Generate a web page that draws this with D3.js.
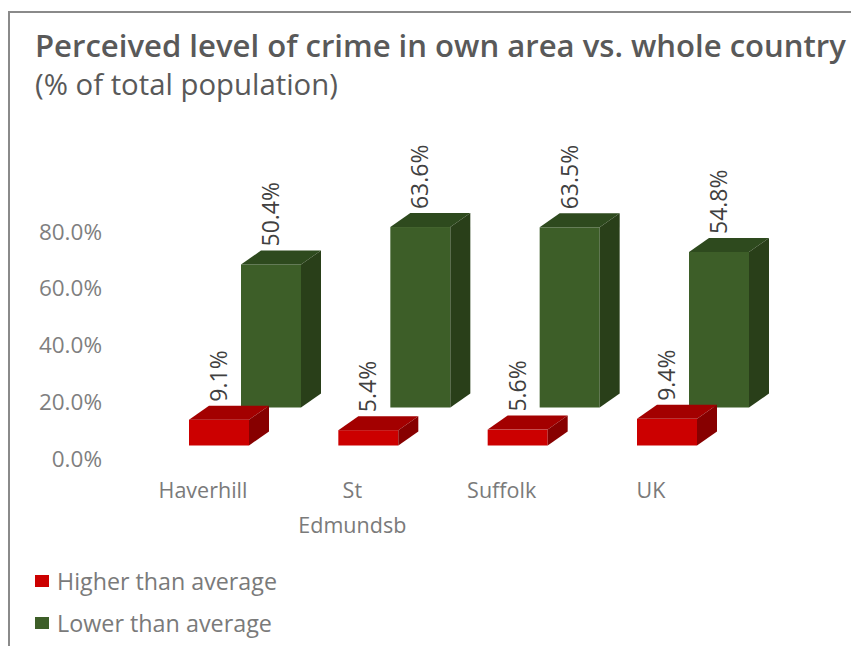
<!DOCTYPE html>
<html>
<head>
<meta charset="utf-8">
<script src="https://cdn.jsdelivr.net/npm/d3@7"></script>
<style>
  html, body { margin: 0; padding: 0; background: #ffffff; }
  svg { display: block; }
  text { font-family: "Open Sans", "Noto Sans", sans-serif; }
</style>
</head>
<body>
<svg id="chart" width="851" height="646"></svg>
<script>
// Chart data
const categories = ["Haverhill", "St Edmundsb", "Suffolk", "UK"];
const higherValues = [9.1, 5.4, 5.6, 9.4];
const lowerValues = [50.4, 63.6, 63.5, 54.8];
const seriesNames = ["Higher than average", "Lower than average"];
const yTicks = [0, 20, 40, 60, 80];

const W = 851, H = 646;
const svg = d3.select("#chart");

// Frame (top and left edges of the chart area)
svg.append("path")
  .attr("d", `M9,${H} L9,12 L${W},12`)
  .attr("fill", "none")
  .attr("stroke", "#8a8a8a")
  .attr("stroke-width", 2);

// Fit a text element's font size so that it spans a given width
function fitWidth(sel, width) {
  const node = sel.node();
  const fs = parseFloat(sel.attr("font-size"));
  const w = node.getComputedTextLength();
  sel.attr("font-size", (fs * width / w).toFixed(2));
}

// Titles
const title = svg.append("text")
  .attr("x", 35).attr("y", 57)
  .attr("font-size", 29).attr("font-weight", 600)
  .attr("fill", "#595959")
  .text("Perceived level of crime in own area vs. whole country");
fitWidth(title, 811);

const subtitle = svg.append("text")
  .attr("x", 35).attr("y", 95)
  .attr("font-size", 24)
  .attr("fill", "#595959")
  .text("(% of total population)");
fitWidth(subtitle, 303);

// Scales
const x = d3.scalePoint().domain(categories).range([203, 651]);
const y = d3.scaleLinear().domain([0, 80]).range([459, 232]);

// Value axis
const yAxis = d3.axisLeft(y)
  .tickValues(yTicks)
  .tickFormat(d => d.toFixed(1) + "%")
  .tickSize(0)
  .tickPadding(0);
const axisG = svg.append("g")
  .attr("transform", "translate(102,0)")
  .call(yAxis);
axisG.select(".domain").remove();
axisG.selectAll("text")
  .attr("font-family", "'Open Sans', sans-serif")
  .attr("font-size", 22.5)
  .attr("fill", "#7f7f7f");

// Category labels
const catG = svg.append("g");
categories.forEach(c => {
  const t = catG.append("text")
    .attr("x", x(c))
    .attr("y", 498)
    .attr("text-anchor", "middle")
    .attr("font-size", 21.5)
    .attr("fill", "#7a7a7a");
  c.split(" ").forEach((line, i) => {
    t.append("tspan")
      .attr("x", x(c))
      .attr("dy", i === 0 ? 0 : 35)
      .text(line);
  });
});

// 3D bar geometry
const barW = 60;
const depthX = 20, depthY = -14;
const series = [
  { name: seriesNames[0], values: higherValues, shiftX: -14, shiftY: -13.5,
    front: "#cc0000", top: "#a30000", side: "#870000", legendW: 220 },
  { name: seriesNames[1], values: lowerValues, shiftX: 38, shiftY: -51.5,
    front: "#3d5e28", top: "#2e4a1e", side: "#293f19", legendW: 215 }
];

// Back row first, then the front row
const barsG = svg.append("g");
const labelsG = svg.append("g");
series.slice().reverse().forEach(s => {
  const g = barsG.append("g");
  categories.forEach((c, i) => {
    const v = s.values[i];
    const left = x(c) + s.shiftX;
    const base = y(0) + s.shiftY;
    const top = y(v) + s.shiftY;
    const right = left + barW;
    // front face
    g.append("rect")
      .attr("x", left).attr("y", top)
      .attr("width", barW).attr("height", base - top)
      .attr("fill", s.front);
    // top face
    g.append("polygon")
      .attr("points", [[left, top], [left + depthX, top + depthY],
        [right + depthX, top + depthY], [right, top]].join(" "))
      .attr("fill", s.top);
    // side face
    g.append("polygon")
      .attr("points", [[right, top], [right + depthX, top + depthY],
        [right + depthX, base + depthY], [right, base]].join(" "))
      .attr("fill", s.side);
    // value label
    const lx = left + depthX + 9;
    const ly = top + depthY - 4;
    labelsG.append("text")
      .attr("transform", `translate(${lx},${ly}) rotate(-90)`)
      .attr("text-anchor", "start")
      .attr("dominant-baseline", "central")
      .attr("font-size", 23)
      .attr("fill", "#404040")
      .text(v.toFixed(1) + "%");
  });
});

// Legend
const legendG = svg.append("g");
series.forEach((s, i) => {
  const ly = 581 + i * 42;
  legendG.append("rect")
    .attr("x", 35).attr("y", ly - 6)
    .attr("width", 14).attr("height", 12)
    .attr("fill", s.front);
  const t = legendG.append("text")
    .attr("x", 57).attr("y", ly)
    .attr("dominant-baseline", "central")
    .attr("font-size", 21.5)
    .attr("fill", "#7a7a7a")
    .text(s.name);
  fitWidth(t, s.legendW);
});
</script>
</body>
</html>
